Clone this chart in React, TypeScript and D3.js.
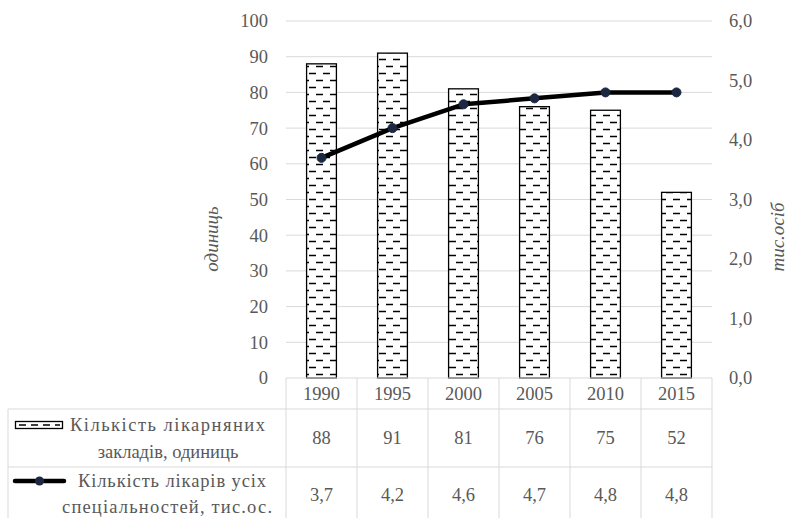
import React from "react";
import * as d3 from "d3";

const years = ["1990", "1995", "2000", "2005", "2010", "2015"];
const hospitals = [88, 91, 81, 76, 75, 52];
const doctors = [3.7, 4.2, 4.6, 4.7, 4.8, 4.8];
const leftTicks = [0, 10, 20, 30, 40, 50, 60, 70, 80, 90, 100];
const rightTicks = [0, 1, 2, 3, 4, 5, 6];

const fmt = (v: number, digits: number) => v.toFixed(digits).replace(".", ",");

export default function App() {
  const width = 795;
  const height = 518;
  const top = 21;
  const base = 378;
  const left = 286;
  const right = 712;

  const x = d3.scaleBand<string>().domain(years).range([left, right]).padding(0);
  const yL = d3.scaleLinear().domain([0, 100]).range([base, top]);
  const yR = d3.scaleLinear().domain([0, 6]).range([base, top]);
  const barW = x.bandwidth() * 0.42;

  const line = d3
    .line<number>()
    .x((_, i) => (x(years[i]) as number) + x.bandwidth() / 2)
    .y((d) => yR(d));

  const gray = "#595959";
  const grid = "#d9d9d9";
  const font = "'Liberation Serif', 'Times New Roman', serif";
  const row1 = 409;
  const row2 = 467;

  return (
    <svg
      width={width}
      height={height}
      style={{ position: "absolute", left: 0, top: 0, background: "#fff", fontFamily: font }}
    >
      <defs>
        <pattern id="dash" width="14" height="14" patternUnits="userSpaceOnUse">
          <rect width="14" height="14" fill="#fff" />
          <line x1="1" x2="8" y1="3.5" y2="3.5" stroke="#000" strokeWidth="1.5" />
          <line x1="8" x2="15" y1="10.5" y2="10.5" stroke="#000" strokeWidth="1.5" />
          <line x1="-6" x2="1" y1="10.5" y2="10.5" stroke="#000" strokeWidth="1.5" />
        </pattern>
      </defs>

      {/* gridlines */}
      {leftTicks.slice(1).map((t) => (
        <line key={t} x1={left} x2={right} y1={yL(t)} y2={yL(t)} stroke={grid} strokeWidth={1} />
      ))}

      {/* left ticks */}
      {leftTicks.map((t) => (
        <text key={t} x={268} y={yL(t)} dy="0.35em" textAnchor="end" fontSize={18.5} fill={gray}>
          {t}
        </text>
      ))}
      {/* right ticks */}
      {rightTicks.map((t) => (
        <text key={t} x={729} y={yR(t)} dy="0.35em" textAnchor="start" fontSize={18.5} fill={gray}>
          {fmt(t, 1)}
        </text>
      ))}

      {/* axis titles */}
      <text
        transform="translate(218,239) rotate(-90)"
        textAnchor="middle"
        fontSize={19}
        fontStyle="italic"
        fill={gray}
      >
        одиниць
      </text>
      <text
        transform="translate(784,237) rotate(-90)"
        textAnchor="middle"
        fontSize={19}
        fontStyle="italic"
        fill={gray}
      >
        тис.осіб
      </text>

      {/* bars */}
      {hospitals.map((v, i) => {
        const cx = (x(years[i]) as number) + x.bandwidth() / 2;
        return (
          <rect
            key={years[i]}
            x={cx - barW / 2}
            y={yL(v)}
            width={barW}
            height={base - yL(v)}
            fill="url(#dash)"
            stroke="#000"
            strokeWidth={1.3}
          />
        );
      })}

      {/* line */}
      <path d={line(doctors) || ""} fill="none" stroke="#000" strokeWidth={4.5} strokeLinejoin="round" />
      {doctors.map((v, i) => (
        <circle
          key={years[i]}
          cx={(x(years[i]) as number) + x.bandwidth() / 2}
          cy={yR(v)}
          r={4.5}
          fill="#1c2741"
          stroke="#1c2741"
        />
      ))}

      {/* data table */}
      <g stroke={grid} strokeWidth={1}>
        <line x1={left} x2={right} y1={base} y2={base} />
        <line x1={8} x2={right} y1={row1} y2={row1} />
        <line x1={8} x2={right} y1={row2} y2={row2} />
        <line x1={8} x2={8} y1={row1} y2={height} />
        {years.map((y) => (
          <line key={y} x1={x(y) as number} x2={x(y) as number} y1={base} y2={height} />
        ))}
        <line x1={right} x2={right} y1={base} y2={height} />
      </g>
      {years.map((y, i) => {
        const cx = (x(y) as number) + x.bandwidth() / 2;
        return (
          <g key={y} fontSize={18.5} fill={gray} textAnchor="middle">
            <text x={cx} y={394} dy="0.35em">{y}</text>
            <text x={cx} y={438} dy="0.35em">{hospitals[i]}</text>
            <text x={cx} y={495} dy="0.35em">{fmt(doctors[i], 1)}</text>
          </g>
        );
      })}

      {/* legend keys */}
      <rect x={15.5} y={421.5} width={47} height={7} fill="#fff" stroke="#000" strokeWidth={1.3} />
      <line x1={19} x2={60} y1={425} y2={425} stroke="#000" strokeWidth={1.5} strokeDasharray="7 5" />
      <line x1={15} x2={64} y1={481} y2={481} stroke="#000" strokeWidth={4.5} strokeLinecap="round" />
      <circle cx={39.5} cy={481} r={4.5} fill="#1c2741" />

      <g fontSize={18.5} fill={gray}>
        <text x={70} y={425} dy="0.35em" textLength={195} lengthAdjust="spacing">
          Кількість лікарняних
        </text>
        <text x={168} y={452} dy="0.35em" textAnchor="middle">
          закладів, одиниць
        </text>
        <text x={78} y={481} dy="0.35em" textLength={188} lengthAdjust="spacing">
          Кількість лікарів усіх
        </text>
        <text x={62} y={507} dy="0.35em" textLength={210} lengthAdjust="spacing">
          спеціальностей, тис.ос.
        </text>
      </g>
    </svg>
  );
}
